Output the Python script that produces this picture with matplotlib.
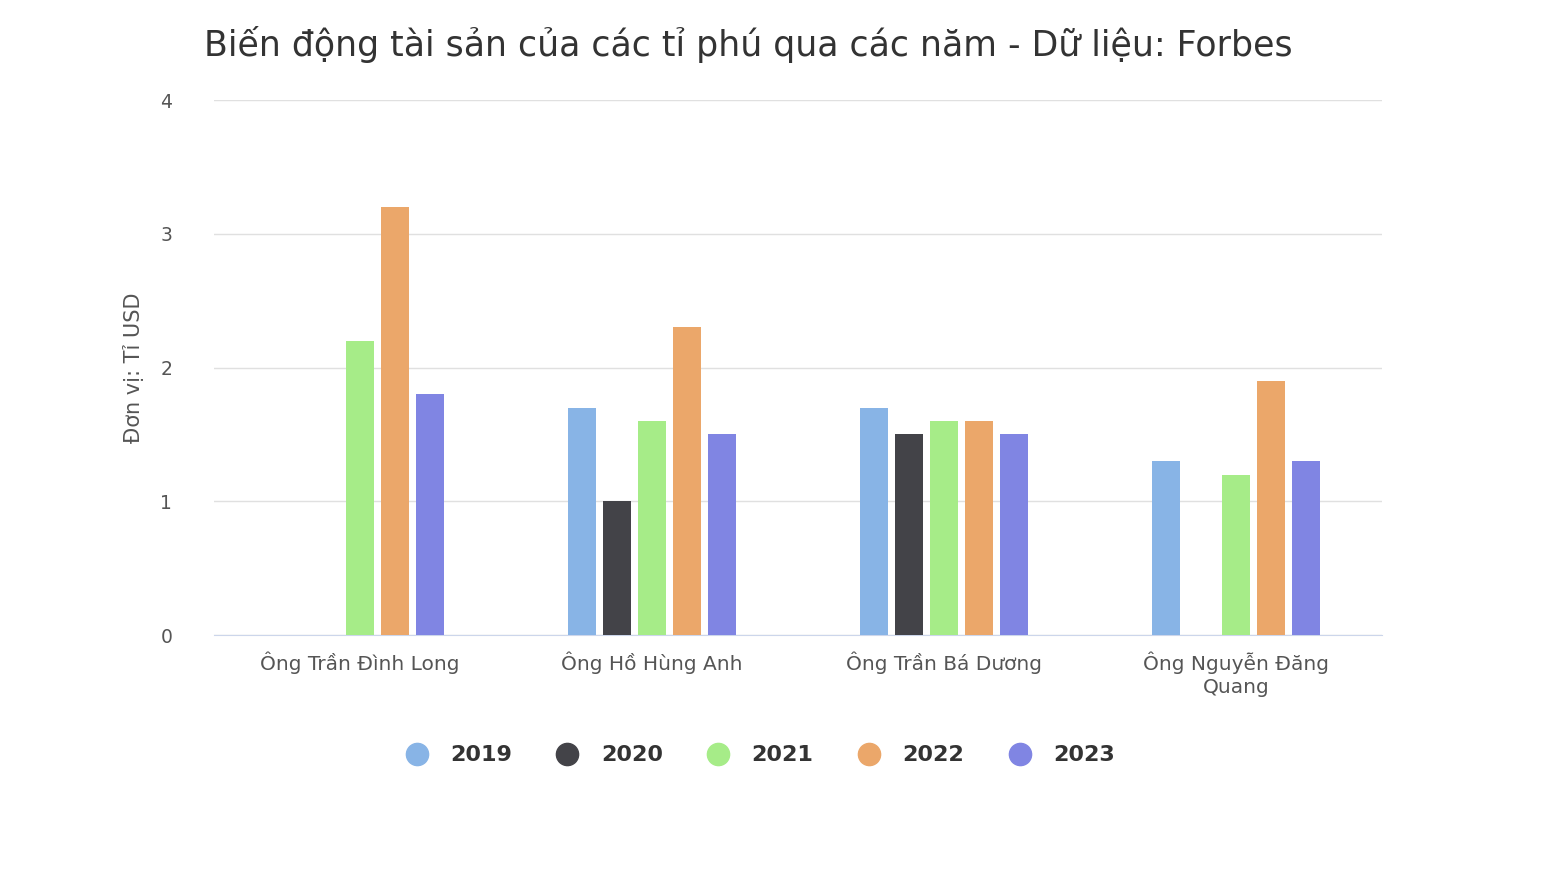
import numpy as np
import matplotlib
matplotlib.use("Agg")
from matplotlib import pyplot as plt

categories = ["Ông Trần Đình Long", "Ông Hồ Hùng Anh", "Ông Trần Bá Dương", "Ông Nguyễn Đăng\nQuang"]
years = ["2019", "2020", "2021", "2022", "2023"]
values = {
    "2019": [np.nan, 1.7, 1.7, 1.3],
    "2020": [np.nan, 1.0, 1.5, np.nan],
    "2021": [2.2, 1.6, 1.6, 1.2],
    "2022": [3.2, 2.3, 1.6, 1.9],
    "2023": [1.8, 1.5, 1.5, 1.3],
}
colors = ["#88b4e6", "#434348", "#a6ec88", "#eba76a", "#8085e3"]

plt.rcParams["font.family"] = ["DejaVu Sans"]
fig = plt.figure(figsize=(15.56, 8.94), dpi=100)
ax = fig.add_axes([0.1375, 0.2897, 0.7506, 0.5984])

x = np.arange(len(categories))
step = 0.12
width = 0.096
for i, y in enumerate(years):
    ax.bar(x + (i - 2) * step, values[y], width, color=colors[i], label=y, zorder=3)

ax.set_xlim(-0.5, len(categories) - 0.5)
ax.set_ylim(0, 4)
ax.set_yticks([0, 1, 2, 3, 4])
ax.set_xticks(x)
ax.set_xticklabels(categories, fontsize=14.5, color="#555555", linespacing=1.25)
ax.tick_params(axis="y", labelsize=13.5, colors="#555555", length=0, pad=30)
ax.tick_params(axis="x", length=0, pad=12)
ax.grid(axis="y", color="#e0e0e0", linewidth=1, zorder=0)
for s in ["top", "right", "left"]:
    ax.spines[s].set_visible(False)
ax.spines["bottom"].set_color("#ccd6eb")
ax.set_ylabel("Đơn vị: Tỉ USD", fontsize=15, color="#555555", labelpad=12)

fig.text(0.131, 0.95, "Biến động tài sản của các tỉ phú qua các năm - Dữ liệu: Forbes",
         fontsize=25, color="#333333", ha="left", va="center")

handles = [plt.Line2D([], [], marker="o", linestyle="", markersize=16, color=c) for c in colors]
leg = fig.legend(handles, years, loc="center", bbox_to_anchor=(0.485, 0.155), ncol=5,
                 frameon=False, fontsize=16, handletextpad=0.5, columnspacing=1.5)
for t in leg.get_texts():
    t.set_fontweight("bold")
    t.set_color("#333333")

fig.savefig("out.png", dpi=100)
